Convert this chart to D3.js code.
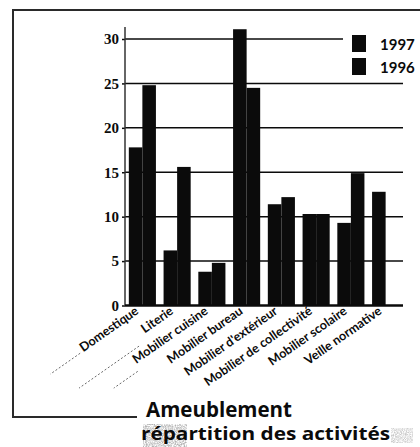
<!DOCTYPE html>
<html>
<head>
<meta charset="utf-8">
<script src="https://cdn.jsdelivr.net/npm/d3@7/dist/d3.min.js"></script>
<style>
  html, body { margin: 0; padding: 0; background: #fff; }
  svg { display: block; }
</style>
</head>
<body>
<script>
// Ameublement – répartition des activités (%), 1997 vs 1996
const categories = [
  "Domestique", "Literie", "Mobilier cuisine", "Mobilier bureau",
  "Mobilier d'extérieur", "Mobilier de collectivité", "Mobilier scolaire", "Veille normative"
];
const series = ["1997", "1996"];
const values1997 = [17.8, 6.2, 3.8, 31.1, 11.4, 10.3, 9.3, 12.8];
const values1996 = [24.8, 15.6, 4.8, 24.5, 12.2, 10.3, 14.9, null];
const yTicks = [0, 5, 10, 15, 20, 25, 30];
const titleLines = ["Ameublement", "répartition des activités"];

const W = 420, H = 447;
const svg = d3.select("body").append("svg").attr("width", W).attr("height", H);
svg.append("rect").attr("width", W).attr("height", H).attr("fill", "#fff");

const defs = svg.append("defs");
// speckled printing texture
const f = defs.append("filter").attr("id", "grain").attr("x", 0).attr("y", 0).attr("width", 1).attr("height", 1);
f.append("feTurbulence").attr("type", "fractalNoise").attr("baseFrequency", 0.9).attr("numOctaves", 2).attr("seed", 4).attr("result", "n");
f.append("feColorMatrix").attr("in", "n").attr("type", "matrix")
  .attr("values", "0 0 0 0 0.45  0 0 0 0 0.45  0 0 0 0 0.45  0 0 0 -2.2 1.55");
f.append("feComposite").attr("in2", "SourceGraphic").attr("operator", "in");

const x0 = d3.scaleBand().domain(categories).range([125, 403]).paddingInner(0.22).paddingOuter(0.11);
const x1 = d3.scaleBand().domain(series).range([0, x0.bandwidth()]);
const y = d3.scaleLinear().domain([0, 30]).range([305.5, 39]);

const ink = "#0b0b0b";

// frame
const frame = svg.append("g").attr("stroke", "#2a2a2a").attr("stroke-width", 2).attr("fill", "none");
frame.append("path").attr("d", "M420,10 H13 V417 H137");

// gridlines
const grid = svg.append("g");
grid.selectAll("line").data(yTicks.filter(d => d > 0)).join("line")
  .attr("x1", 125).attr("x2", d => d === 30 ? 343 : 403)
  .attr("y1", d => y(d)).attr("y2", d => y(d))
  .attr("stroke", ink).attr("stroke-width", 1.5);

// y axis
const yAxis = d3.axisLeft(y).tickValues(yTicks).tickSize(3).tickPadding(3).tickFormat(d3.format("d"));
const gy = svg.append("g").attr("transform", "translate(125,0)").call(yAxis);
gy.select(".domain").remove();
gy.selectAll(".tick line").attr("stroke", ink).attr("stroke-width", 1.5);
gy.selectAll(".tick text")
  .attr("font-family", "'Liberation Serif', serif").attr("font-weight", "bold")
  .attr("font-size", 15).attr("fill", ink);
svg.append("line").attr("x1", 125).attr("x2", 125).attr("y1", 27).attr("y2", y(0))
  .attr("stroke", "#333").attr("stroke-width", 1.5);

// bars
const rows = categories.map((c, i) => ({ c, vals: [
  { s: "1997", v: values1997[i] }, { s: "1996", v: values1996[i] }
] }));
const groups = svg.append("g").selectAll("g").data(rows).join("g")
  .attr("transform", d => `translate(${x0(d.c)},0)`);
groups.selectAll("rect").data(d => d.vals.filter(e => e.v != null)).join("rect")
  .attr("x", d => x1(d.s)).attr("width", x1.bandwidth())
  .attr("y", d => y(d.v)).attr("height", d => y(0) - y(d.v))
  .attr("fill", ink);

// baseline
svg.append("line").attr("x1", 125).attr("x2", 403).attr("y1", y(0)).attr("y2", y(0))
  .attr("stroke", ink).attr("stroke-width", 2.5);

// category labels
const lab = svg.append("g").selectAll("g").data(categories).join("g")
  .attr("transform", d => `translate(${x0(d) + x0.bandwidth() / 2 - 3},313) rotate(-35)`);
lab.append("text").attr("text-anchor", "end")
  .attr("font-family", "Lato, sans-serif").attr("font-weight", "bold").attr("font-size", 12.6)
  .attr("fill", ink).text(d => d);

// dotted leader strokes under the first labels
const leaderEnd = { "Domestique": [-108, -1], "Literie": [-121, 7], "Mobilier cuisine": [-121, 7] };
lab.filter(d => d in leaderEnd).each(function(d) {
  const g = d3.select(this);
  const L = g.select("text").node().getComputedTextLength();
  const [end, v] = leaderEnd[d];
  const start = d === "Literie" ? -L - 12 : -L - 3;
  g.append("line").attr("x1", start).attr("x2", Math.min(end, start - 25)).attr("y1", v).attr("y2", v)
    .attr("stroke", "#555").attr("stroke-width", 0.8).attr("stroke-dasharray", "2,2");
});

// legend
const leg = svg.append("g").selectAll("g").data(series).join("g")
  .attr("transform", (d, i) => `translate(352,${35 + i * 23})`);
leg.append("rect").attr("width", 14).attr("height", 17).attr("fill", ink);
leg.append("text").attr("x", 28).attr("y", 14.5)
  .attr("font-family", "Lato, sans-serif").attr("font-weight", "bold").attr("font-size", 15)
  .attr("fill", ink).text(d => d);

// texture patches by the subtitle
svg.append("rect").attr("x", 143).attr("y", 424).attr("width", 44).attr("height", 23)
  .attr("fill", "#fff").attr("filter", "url(#grain)");
svg.append("rect").attr("x", 391).attr("y", 428).attr("width", 22).attr("height", 15)
  .attr("fill", "#fff").attr("filter", "url(#grain)").attr("opacity", 0.7);

// title
svg.append("text").attr("x", 146).attr("y", 416.5)
  .attr("font-family", "'Open Sans', sans-serif").attr("font-weight", "bold").attr("font-size", 20.5)
  .attr("textLength", 146).attr("lengthAdjust", "spacingAndGlyphs")
  .attr("fill", ink).text(titleLines[0]);
svg.append("text").attr("x", 141).attr("y", 440)
  .attr("font-family", "'Open Sans', sans-serif").attr("font-weight", "bold").attr("font-size", 18)
  .attr("textLength", 249).attr("lengthAdjust", "spacingAndGlyphs")
  .attr("fill", ink).text(titleLines[1]);
</script>
</body>
</html>
